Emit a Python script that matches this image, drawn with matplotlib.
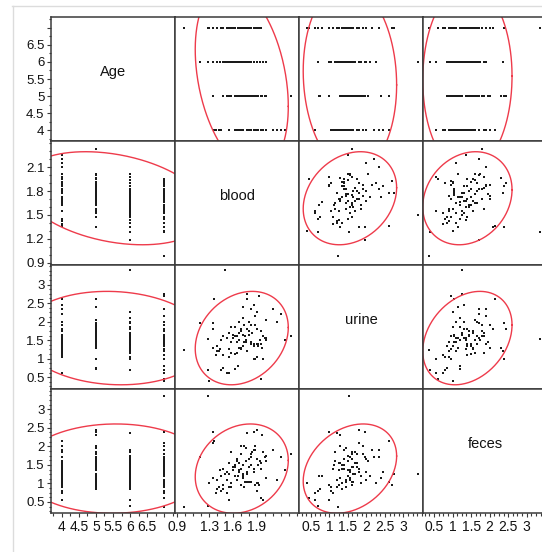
import numpy as np
import matplotlib
matplotlib.use('Agg')
import matplotlib.pyplot as plt
from matplotlib.lines import Line2D

plt.rcParams['font.family'] = ['Liberation Sans', 'DejaVu Sans']

names = ['Age', 'blood', 'urine', 'feces']

age = [4] * 24 + [5] * 25 + [6] * 25 + [7] * 26
blood = [1.38, 1.70, 1.55, 1.83, 1.42, 1.45, 1.92, 1.78, 2.02, 1.95, 2.15, 1.72, 1.68, 2.20, 1.80, 1.98, 1.86, 2.26, 1.36, 1.88, 1.65, 2.10, 1.90, 1.62,
         1.48, 1.88, 1.70, 1.62, 1.74, 1.52, 1.86, 1.55, 1.92, 1.58, 1.65, 1.68, 1.82, 1.80, 1.97, 1.72, 1.95, 1.76, 1.78, 2.00, 1.90, 2.02, 1.84, 1.35, 2.33,
         1.28, 1.98, 1.55, 1.78, 1.40, 1.58, 1.50, 1.65, 1.44, 1.75, 1.83, 1.70, 1.94, 1.35, 1.18, 1.52, 1.72, 1.60, 1.86, 1.90, 1.68, 1.62, 2.01, 1.80, 1.48,
         0.98, 1.28, 1.95, 1.45, 1.86, 1.40, 1.52, 1.90, 1.48, 1.80, 1.72, 1.68, 1.76, 1.66, 1.70, 1.58, 1.83, 1.63, 1.74, 1.55, 1.93, 1.60, 1.88, 1.78, 1.35, 1.30]
urine = [1.10, 1.25, 0.60, 1.45, 1.20, 1.50, 1.35, 1.80, 1.55, 1.40, 2.00, 1.65, 1.30, 2.20, 1.75, 1.60, 2.45, 1.50, 2.60, 1.90, 1.15, 2.35, 1.05, 1.12,
         0.75, 1.00, 1.30, 0.72, 1.45, 1.55, 1.35, 1.70, 1.40, 1.85, 1.60, 1.50, 1.90, 1.65, 1.30, 2.40, 1.75, 1.45, 2.60, 1.55, 1.80, 2.05, 1.70, 1.95, 1.62,
         0.70, 1.00, 1.05, 1.20, 1.35, 1.15, 3.40, 1.45, 1.25, 1.60, 1.40, 1.80, 1.50, 1.30, 1.95, 1.55, 2.10, 1.65, 1.40, 2.25, 1.70, 1.85, 1.50, 2.00, 1.60,
         1.23, 1.52, 0.45, 0.70, 1.00, 1.20, 0.60, 1.40, 1.10, 1.65, 1.35, 2.00, 1.50, 0.80, 1.75, 1.45, 2.35, 1.60, 1.90, 1.25, 2.70, 1.55, 2.15, 2.75, 1.80, 0.40]
feces = [0.75, 0.95, 0.55, 1.05, 0.90, 1.20, 1.00, 1.30, 1.15, 1.40, 1.10, 1.25, 1.55, 1.70, 1.45, 1.85, 1.30, 1.35, 2.15, 2.00, 1.60, 1.90, 0.80, 1.50,
         0.85, 0.95, 2.00, 1.20, 0.90, 1.10, 1.40, 1.25, 1.50, 1.00, 1.65, 1.35, 1.80, 1.45, 2.30, 1.15, 1.55, 1.95, 1.05, 1.70, 2.45, 1.60, 1.85, 2.40, 1.80,
         0.40, 0.55, 0.90, 2.35, 0.85, 1.85, 1.25, 1.10, 1.35, 1.05, 1.50, 1.40, 1.60, 1.15, 1.70, 1.30, 1.20, 1.45, 1.90, 1.00, 1.55, 1.20, 1.75, 1.65, 0.95,
         0.37, 3.36, 0.60, 0.80, 2.40, 1.10, 0.75, 1.65, 1.40, 1.05, 1.50, 1.30, 1.60, 1.20, 1.80, 0.90, 1.70, 1.45, 2.00, 1.55, 0.95, 1.35, 1.90, 1.25, 2.10, 1.00]

# axis ranges and tick labels
lims = [(3.68, 7.32), (0.87, 2.43), (0.18, 3.53), (0.2, 3.55)]
ticks = [[4, 4.5, 5, 5.5, 6, 6.5, 7], [0.9, 1.2, 1.5, 1.8, 2.1], [0.5, 1, 1.5, 2, 2.5, 3], [0.5, 1, 1.5, 2, 2.5, 3]]
tlabels = [['4', '4.5', '5', '5.5', '6', '6.5', ''], ['0.9', '1.2', '1.5', '1.8', '2.1'],
           ['0.5', '1', '1.5', '2', '2.5', '3'], ['0.5', '1', '1.5', '2', '2.5', '3']]
xticks_blood = [0.9, 1.3, 1.6, 1.9]
minor = [0.25, 0.1, 0.125, 0.125]

data = np.array([age, blood, urine, feces], dtype=float)

W, H = 542, 552
fig = plt.figure(figsize=(W / 100, H / 100), dpi=100)
cell = 124
x0, y0 = 51, 17

# faint outer frame
fig.add_artist(Line2D([12 / W, 1], [1 - 5.5 / H, 1 - 5.5 / H], color='#dcdcdc', lw=1))
fig.add_artist(Line2D([12.5 / W, 12.5 / W], [0, 1 - 5.5 / H], color='#dcdcdc', lw=1))

t = np.linspace(0, 2 * np.pi, 400)
k = np.sqrt(5.991)

for i in range(4):
    for j in range(4):
        ax = fig.add_axes([(x0 + cell * j) / W, 1 - (y0 + cell * (i + 1)) / H, cell / W, cell / H])
        ax.set_xlim(*lims[j])
        ax.set_ylim(*lims[i])
        for s in ax.spines.values():
            s.set_color('#3a3a3a')
            s.set_linewidth(1.1)
        ax.tick_params(which='both', direction='out', colors='#3a3a3a', labelcolor='#111111',
                       labelsize=9.5, pad=1.5)
        ax.tick_params(which='major', length=3.2, width=0.8)
        ax.tick_params(which='minor', length=1.8, width=0.8)
        if j == 0:
            ax.set_yticks(ticks[i])
            ax.set_yticklabels(tlabels[i])
            ax.set_yticks(np.arange(0, 8, minor[i]), minor=True)
            ax.set_ylim(*lims[i])
        else:
            ax.set_yticks([])
            ax.set_yticks([], minor=True)
        if i == 3:
            if j == 1:
                ax.set_xticks(xticks_blood)
                ax.set_xticklabels([str(v) for v in xticks_blood])
            else:
                ax.set_xticks(ticks[j])
                ax.set_xticklabels(tlabels[j])
            ax.set_xticks(np.arange(0, 8, minor[j]), minor=True)
            ax.set_xlim(*lims[j])
            for lab in ax.get_xticklabels():
                lab.set_fontsize(10)
        else:
            ax.set_xticks([])
            ax.set_xticks([], minor=True)

        if i == j:
            ax.text(0.5, 0.56, names[i], transform=ax.transAxes, ha='center', va='center',
                    fontsize=10.5, color='#111111')
            continue

        xs, ys = data[j], data[i]
        ax.plot(xs, ys, 's', ms=1.8, color='#1a1a1a', mew=0, clip_on=True)

        # 95% density ellipse
        m = np.array([xs.mean(), ys.mean()])
        cov = np.cov(xs, ys)
        L = np.linalg.cholesky(cov)
        e = m[:, None] + k * L @ np.vstack([np.cos(t), np.sin(t)])
        ax.plot(e[0], e[1], color='#ee3b4b', lw=1.0)

fig.savefig('out.png', dpi=100)
